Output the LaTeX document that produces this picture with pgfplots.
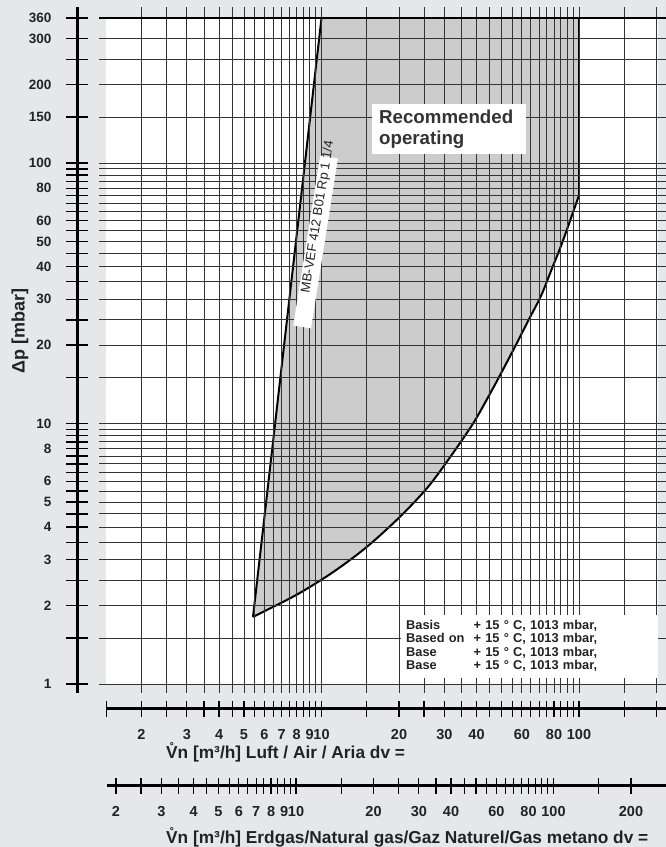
\documentclass[border=0pt]{standalone}
\usepackage{fontspec}
\setmainfont{Liberation Sans}
\usepackage{pgfplots}
\pgfplotsset{compat=1.18}
\definecolor{bg}{HTML}{E6E7E9}
\definecolor{shade}{HTML}{CCCCCC}
\definecolor{ink}{HTML}{222222}

\begin{document}
\begin{tikzpicture}[x=1pt,y=1pt]
\useasboundingbox (0,0) rectangle (666,847);
\fill[bg] (0,0) rectangle (666,847);
\begin{scope}
\clip (0,0) rectangle (666,847);

% main chart area with grid
\begin{axis}[at={(99pt,154pt)}, anchor=south west, scale only axis,
    width=567pt, height=686pt,
    xmode=log, ymode=log,
    xmin=1.3675, xmax=217.7, ymin=0.9235, ymax=397.1,
    axis on top, axis line style={draw=none}, tick style={draw=none},
    xticklabel=\empty, yticklabel=\empty,
    xtick={2,2.5,3,3.5,4,4.5,5,5.5,6,6.5,7,7.5,8,8.5,9,9.5,10,15,20,25,30,35,40,45,50,55,60,65,70,75,80,85,90,95,100,150,200},
    ytick={1,1.5,2,2.5,3,3.5,4,4.5,5,5.5,6,6.5,7,7.5,8,8.5,9,9.5,10,15,20,25,30,35,40,45,50,55,60,65,70,75,80,85,90,95,100,150,200,250,300},
    grid=major, major grid style={black!80, line width=0.8pt},
    extra y ticks={360}, extra y tick labels={},
    extra y tick style={major grid style={black, line width=2.2pt}},
    clip=false]
  % white chart field
  \addplot[fill=white, draw=none] coordinates {(1.456,0.99) (202.7,0.99) (202.7,360) (1.456,360)} -- cycle;
  % recommended operating range
  \addplot[fill=shade, draw=none] coordinates {
    (5.42,1.81) (10,360) (100,360) (100,75.2)
    (92.5,60.4) (84.9,47.7) (78,38.7) (71.2,30.9) (63.5,24.8) (56.7,19.9)
    (50,15.7) (45,12.95) (38.8,10) (31.2,7.3) (25.7,5.65) (20.2,4.39)
    (15,3.36) (11.1,2.69) (8,2.2)} -- cycle;
  \addplot[black, line width=2pt, smooth] coordinates {
    (5.42,1.81) (8,2.2) (11.1,2.69) (15,3.36) (20.2,4.39) (25.7,5.65)
    (31.2,7.3) (38.8,10) (45,12.95) (50,15.7) (56.7,19.9) (63.5,24.8)
    (71.2,30.9) (78,38.7) (84.9,47.7) (92.5,60.4) (100,75.2)};
  \addplot[black, line width=2pt] coordinates {(5.42,1.81) (10,360)};
  \addplot[black, line width=2pt] coordinates {(100,75.2) (100,360)};
\end{axis}

% pressure axis
\begin{axis}[at={(77pt,154pt)}, anchor=south west, scale only axis,
    width=10pt, height=686pt,
    ymode=log, ymin=0.9235, ymax=397.1, xmin=0, xmax=1,
    hide x axis, axis y line*=left,
    y axis line style={line width=3pt, black},
    ytick={1,2,3,4,5,6,8,10,20,30,40,50,60,80,100,150,200,300,360},
    yticklabels={1,2,3,4,5,6,8,10,20,30,40,50,60,80,100,150,200,300,360},
    extra y ticks={1.5,2.5,3.5,4.5,5.5,6.5,7,7.5,8.5,9,9.5,15,25,35,45,55,65,70,75,85,90,95,250},
    extra y tick labels={},
    tick align=center, major tick length=22pt,
    ytick style={line width=1.4pt, black},
    yticklabel style={font=\bfseries\fontsize{13.5}{13.5}\selectfont, text=ink, xshift=-11pt}]
\end{axis}

% air flow axis
\begin{axis}[at={(106.7pt,138pt)}, anchor=south west, scale only axis,
    width=559.3pt, height=5pt,
    xmode=log, xmin=1.4649, xmax=217.7, ymin=0, ymax=1,
    hide y axis, axis x line*=bottom,
    x axis line style={line width=3pt, black},
    xtick={2,3,4,5,6,7,8,9,10,20,30,40,60,80,100},
    xticklabels={2,3,4,5,6,7,8,9,10,20,30,40,60,80,100},
    extra x ticks={1.4649,2.5,3.5,4.5,5.5,6.5,7.5,8.5,9.5,15,25,35,45,50,55,65,70,75,85,90,95,150,200},
    extra x tick labels={},
    tick align=center, major tick length=16pt,
    xtick style={line width=1.2pt, black},
    xticklabel style={font=\bfseries\fontsize{14.5}{14.5}\selectfont, text=ink, yshift=-9pt}]
\end{axis}

% natural gas flow axis
\begin{axis}[at={(106.7pt,61pt)}, anchor=south west, scale only axis,
    width=559.3pt, height=5pt,
    xmode=log, xmin=1.8402, xmax=273.5, ymin=0, ymax=1,
    hide y axis, axis x line*=bottom,
    x axis line style={line width=3pt, black},
    xtick={2,3,4,5,6,7,8,9,10,20,30,40,60,80,100,200},
    xticklabels={2,3,4,5,6,7,8,9,10,20,30,40,60,80,100,200},
    extra x ticks={2.5,3.5,4.5,5.5,6.5,7.5,8.5,9.5,15,25,35,45,50,55,65,70,75,85,90,95,150},
    extra x tick labels={},
    tick align=center, major tick length=16pt,
    xtick style={line width=1.2pt, black},
    xticklabel style={font=\bfseries\fontsize{14.5}{14.5}\selectfont, text=ink, yshift=-9pt}]
\end{axis}

% labels
\node[rotate=90, font=\bfseries\fontsize{18}{18}\selectfont, text=ink] at (20,516) {Δp [mbar]};
\node[anchor=west, inner sep=0pt, font=\bfseries\fontsize{17.3}{17.3}\selectfont, text=ink] at (166,95) {\r{V}n [m³/h] Luft / Air / Aria dv =};
\node[anchor=west, inner sep=0pt, font=\bfseries\fontsize{17.3}{17.3}\selectfont, text=ink] at (166,10) {\r{V}n [m³/h] Erdgas/Natural gas/Gaz Naturel/Gas metano dv =};

\node[anchor=north west, fill=white, minimum height=50pt,
      text width=140pt, inner xsep=7pt, align=left,
      font=\bfseries\fontsize{18.7}{21}\selectfont, text=black!80] at (372,743) {Recommended\\operating};

\node[anchor=north west, fill=white, minimum height=63pt,
      text width=247pt, inner xsep=5pt, inner ysep=2pt, align=left,
      font=\bfseries\fontsize{12.8}{13.5}\selectfont, text=ink] at (401,232)
  {\begin{tabular}{@{}l@{\hspace{9pt}}l@{}}
   Basis & + 15 ° C, 1013 mbar,\\
   Based on & + 15 ° C, 1013 mbar,\\
   Base & + 15 ° C, 1013 mbar,\\
   Base & + 15 ° C, 1013 mbar,
   \end{tabular}};

\node[rotate=81, fill=white, minimum width=172pt, minimum height=18pt, inner sep=0pt] at (315.6,605) {};
\node[rotate=81, font=\fontsize{13}{13}\selectfont, text=ink] at (318,630) {MB-VEF 412 B01 Rp 1 1/4};
\end{scope}
\end{tikzpicture}
\end{document}
